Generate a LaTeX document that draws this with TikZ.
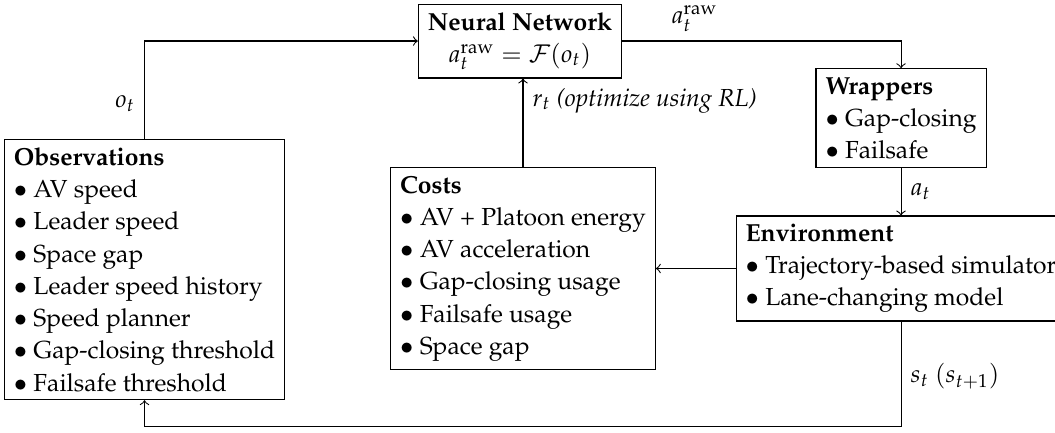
\documentclass[tikz,border=0pt]{standalone}
\usepackage[T1]{fontenc}
\usepackage{mathpazo}
\usepackage{amsmath,amssymb}
\newcommand{\raw}{\mathrm{raw}}
\tikzset{every picture/.style={font=\fontsize{9.1}{11.9}\selectfont}}
\tikzset{block/.style={draw,align=left,inner xsep=3.5pt,inner ysep=3pt}}
\tikzset{edge/.style={->}}

\begin{document}
\begin{tikzpicture}
\useasboundingbox (0,0) rectangle (13.683,-5.603);

\node [block,align=center] (nn) at (6.744,-0.532) {\textbf{Neural Network}\\ $a_t^{\raw} = \mathcal{F}(o_t)$};
\node [block] (wrap) at (11.686,-1.530) {\textbf{Wrappers}\\ $\bullet$ Gap-closing\\ $\bullet$ Failsafe};
\node [block] (env) at (11.686,-3.482) {\textbf{Environment}\\ $\bullet$ Trajectory-based simulator\\ $\bullet$ Lane-changing model};
\node [block] (cost) at (6.783,-3.482) {\textbf{Costs}\\ $\bullet$ AV + Platoon energy\\ $\bullet$ AV acceleration\\ $\bullet$ Gap-closing usage\\ $\bullet$ Failsafe usage\\ $\bullet$ Space gap};
\node [block] (obs) at (1.874,-3.495) {\textbf{Observations}\\ $\bullet$ AV speed\\ $\bullet$ Leader speed\\ $\bullet$ Space gap\\ $\bullet$ Leader speed history\\ $\bullet$ Speed planner\\ $\bullet$ Gap-closing threshold\\ $\bullet$ Failsafe threshold};

\coordinate (bot) at (11.686,-5.534);

\draw [edge] (obs.north) |- node [left,pos=.18] {$o_t$} (nn.west);
\draw [edge] (nn.east) -| node [above,pos=.13] {$a_t^{\raw}$} (wrap.north);
\draw [edge] (wrap.south) -- node [right] {$a_t$} (env.north);
\draw [edge] (env.west) -- (cost.east);
\draw [edge] (cost.north) -- node [right,pos=.75] {$r_t$ \textit{(optimize using RL)}} (cost.north |- nn.south);
\draw [edge] (env.south) -- node [right,pos=.52] {$s_t$ $(s_{t+1})$} (bot) -| (obs.south);
\end{tikzpicture}
\end{document}
